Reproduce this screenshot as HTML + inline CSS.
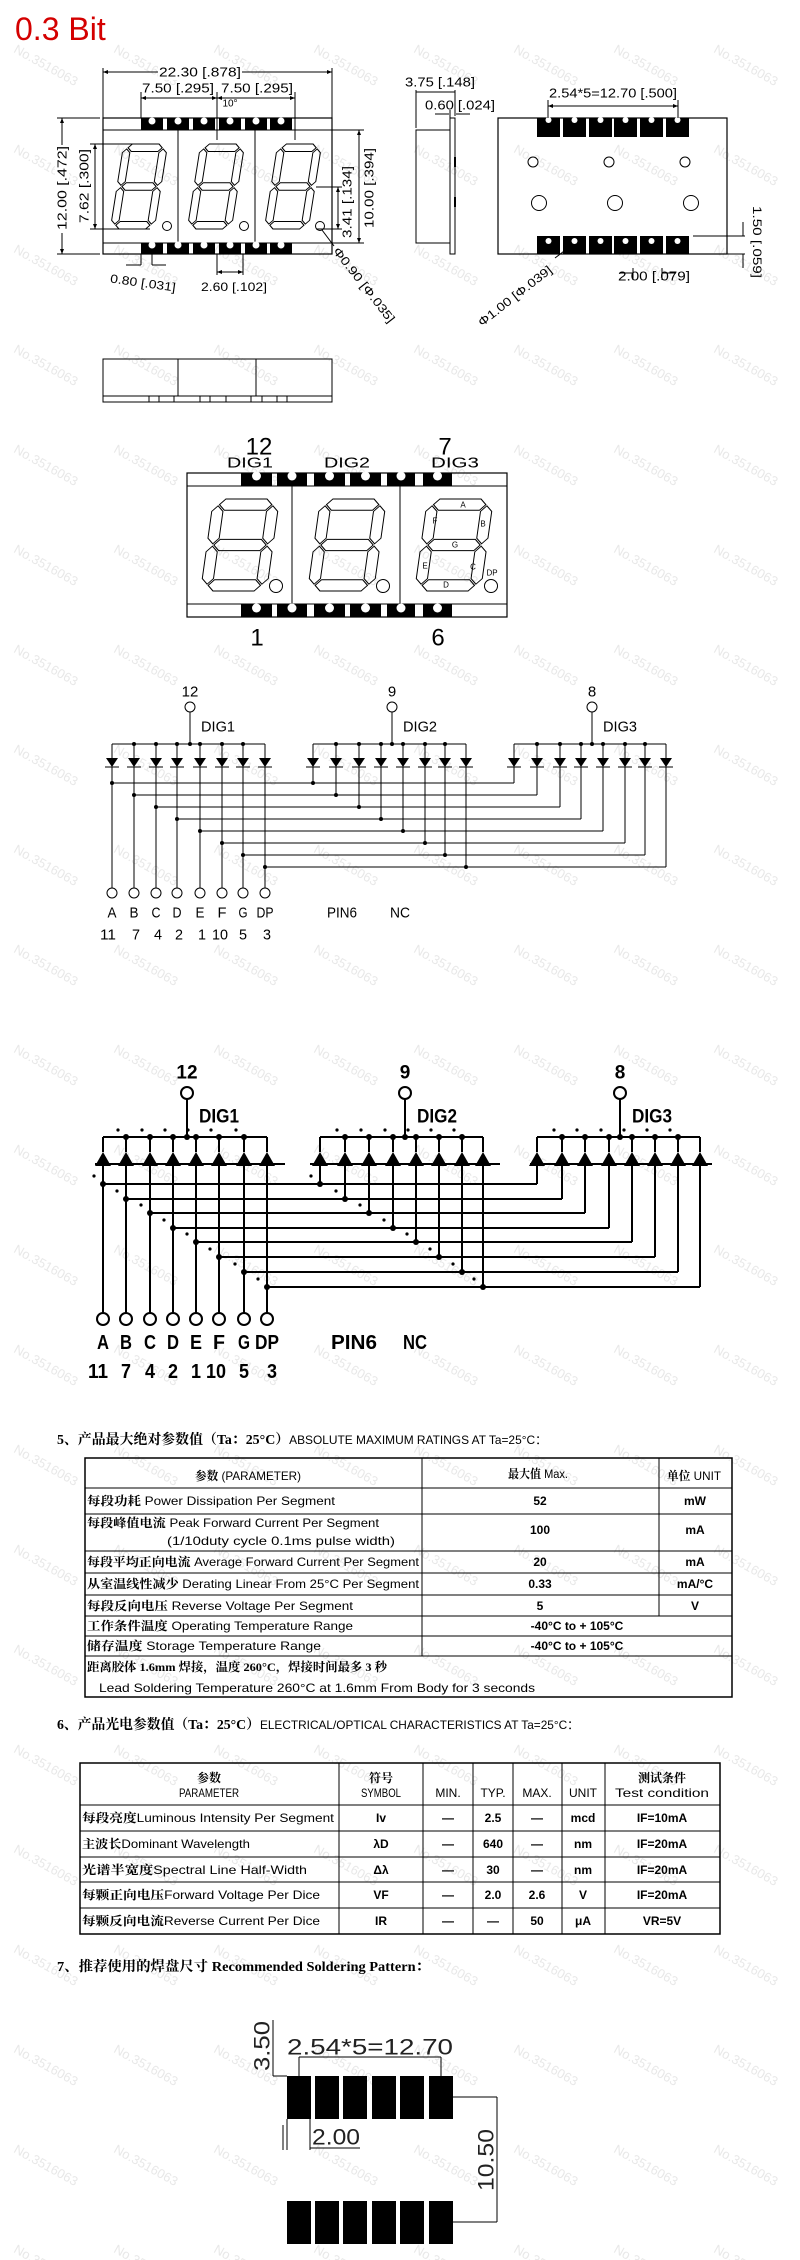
<!DOCTYPE html>
<html><head><meta charset="utf-8">
<style>
html,body{margin:0;padding:0;background:#fff;}
svg{display:block;}
text{font-family:"Liberation Sans Narrow","Liberation Sans","Noto Sans CJK SC",sans-serif;}
.cj{font-family:"Liberation Serif","Noto Serif CJK SC","Noto Sans CJK SC",serif;font-weight:bold;}
.wm{font-family:"Liberation Sans",sans-serif;font-size:13px;fill:#e8e8e8;}
</style></head>
<body>
<svg id="s" xmlns="http://www.w3.org/2000/svg" width="800" height="2260" viewBox="0 0 800 2260">
<text x="15" y="40" style="font-family:'Liberation Sans',sans-serif;font-size:32px;fill:#d40000">0.3 Bit</text>
</svg>
<script>
const NS='http://www.w3.org/2000/svg';
const svg=document.getElementById('s');
function el(tag,a,txt,parent){const e=document.createElementNS(NS,tag);for(const k in a)e.setAttribute(k,a[k]);if(txt!=null)e.textContent=txt;(parent||svg).appendChild(e);return e;}
function L(x1,y1,x2,y2,w,p){el('line',{x1,y1,x2,y2,stroke:'#000','stroke-width':w||1},null,p);}
function R(x,y,w,h,fill,sw,p){el('rect',{x,y,width:w,height:h,fill:fill||'none',stroke:'#000','stroke-width':sw==null?1:sw},null,p);}
function C(cx,cy,r,fill,sw,p){el('circle',{cx,cy,r,fill:fill||'#fff',stroke:'#000','stroke-width':sw||1},null,p);}
function T(x,y,s,size,o){o=o||{};const a={x,y,'font-size':size,'text-anchor':o.anchor||'start','dominant-baseline':'central'};
 if(o.len){a.textLength=o.len;a.lengthAdjust='spacingAndGlyphs';}
 if(o.rot!=null)a.transform='rotate('+o.rot+' '+x+' '+y+')';
 if(o.cls)a['class']=o.cls; if(o.bold)a['font-weight']='bold'; if(o.fill)a.fill=o.fill;
 return el('text',a,s);}
for(let y=48;y<2260;y+=100){for(let x=15;x<800;x+=100){T(x,y,'No.3516063',13,{cls:'wm',rot:29});}}
function arrowH(x1,x2,y){L(x1,y,x2,y);el('path',{d:`M${x1} ${y}l5 -2v4z M${x2} ${y}l-5 -2v4z`,fill:'#000'});}
function arrowV(x,y1,y2){L(x,y1,x,y2);el('path',{d:`M${x} ${y1}l-2 5h4z M${x} ${y2}l-2 -5h4z`,fill:'#000'});}
function digit(bx,by,W,H,sk,sw){
 const g=el('g',{transform:`translate(${bx+W/2} ${by+H/2}) skewX(${-sk}) translate(${-bx-W/2} ${-by-H/2})`,fill:'none',stroke:'#000','stroke-width':sw||1});
 const t=W*0.17,gp=1.2;
 function hs(x0,x1,yc){el('polygon',{points:`${x0},${yc} ${x0+t/2},${yc-t/2} ${x1-t/2},${yc-t/2} ${x1},${yc} ${x1-t/2},${yc+t/2} ${x0+t/2},${yc+t/2}`},null,g);}
 function vs(xc,y0,y1){el('polygon',{points:`${xc},${y0} ${xc+t/2},${y0+t/2} ${xc+t/2},${y1-t/2} ${xc},${y1} ${xc-t/2},${y1-t/2} ${xc-t/2},${y0+t/2}`},null,g);}
 const xl=bx+t/2,xr=bx+W-t/2,yt=by+t/2,ym=by+H/2,yb=by+H-t/2;
 hs(xl+gp,xr-gp,yt);hs(xl+gp,xr-gp,ym);hs(xl+gp,xr-gp,yb);
 vs(xl,yt+gp,ym-gp);vs(xr,yt+gp,ym-gp);vs(xl,ym+gp,yb-gp);vs(xr,ym+gp,yb-gp);
}

// ===== Front view =====
R(103,118,229,136,'none',1.2);L(103,130,332,130);L(103,243,332,243);L(178,130,178,243);L(255,130,255,243);
const fp=[141,167,193,219,245,270];
fp.forEach(x=>{el('rect',{x,y:118,width:22,height:12,fill:'#000'});C(x+11,121,3.5,'#fff',0.01);
 el('rect',{x,y:243,width:22,height:11,fill:'#000'});C(x+11,245,3.5,'#fff',0.01);});
digit(117,144,44,85,9,1);digit(194,144,44,85,9,1);digit(271,144,44,85,9,1);
C(167,226,4.5);C(244,226,4.5);C(320,226,4.5);
L(103,68,103,118);L(332,68,332,118);arrowH(103,332,72);
el('rect',{x:158,y:64,width:84,height:16,fill:'#fff'});T(200,72,'22.30 [.878]',13,{anchor:'middle',len:82});
L(141,92,141,118);L(217,92,217,140);L(295,92,295,140);arrowH(141,217,98);arrowH(217,295,98);
T(178,88,'7.50 [.295]',13,{anchor:'middle',len:72});T(257,88,'7.50 [.295]',13,{anchor:'middle',len:72});
T(230,104,'10°',10,{anchor:'middle'});
L(57,118,100,118);L(57,254,100,254);arrowV(62,118,254);
el('rect',{x:55,y:145,width:14,height:88,fill:'#fff'});T(62,188,'12.00 [.472]',13,{anchor:'middle',rot:-90,len:84});
L(90,144,150,144);L(90,229,150,229);arrowV(95,144,229);T(84,186,'7.62 [.300]',13,{anchor:'middle',rot:-90,len:74});
L(332,130,364,130);L(332,243,364,243);arrowV(359,130,243);T(369,188,'10.00 [.394]',13,{anchor:'middle',rot:-90,len:80});
L(316,187,342,187);L(316,229,342,229);arrowV(338,187,229);T(347,202,'3.41 [.134]',13,{anchor:'middle',rot:-90,len:72});
L(141,254,141,265);L(152,254,152,265);L(126,265,141,265);L(152,265,166,265);
T(143,283,'0.80 [.031]',12,{anchor:'middle',rot:8,len:66});
L(217,254,217,275);L(243,254,243,275);arrowH(217,243,272);
T(234,287,'2.60 [.102]',12,{anchor:'middle',len:66});
L(322,230,334,246);T(364,285,'Φ0.90 [Φ.035]',12,{anchor:'middle',rot:52,len:92});
// ===== Side view =====
R(416,130,34,113,'none',1);R(450,118,5,136,'none',1);
el('rect',{x:454,y:157,width:2,height:10,fill:'#000'});el('rect',{x:454,y:197,width:2,height:10,fill:'#000'});
L(416,90,416,128);L(455,90,455,116);L(416,92,455,92);
T(440,82,'3.75 [.148]',13,{anchor:'middle',len:70});
L(435,114,449,114);L(456,114,470,114);L(450,110,450,118);
T(460,105,'0.60 [.024]',13,{anchor:'middle',len:70});
// ===== Back view =====
R(498,118,229,136,'none',1.2);
[537,563,589,614,640,666].forEach(x=>{el('rect',{x,y:118,width:23,height:19,fill:'#000'});C(x+11.5,120,3,'#fff',0.01);
 el('rect',{x,y:236,width:23,height:18,fill:'#000'});C(x+11.5,241,3,'#fff',0.01);});
[533,609,685].forEach(x=>C(x,162,5));[539,615,691].forEach(x=>C(x,203,7.5));
L(548,100,548,118);L(678,100,678,118);arrowH(548,678,106);
T(613,93,'2.54*5=12.70 [.500]',13,{anchor:'middle',len:128});
L(633,268,633,280);L(662,268,662,280);L(620,273,633,273);L(662,273,676,273);
T(654,276,'2.00 [.079]',13,{anchor:'middle',len:72});
L(693,236,745,236);L(727,254,745,254);L(743,222,743,236);L(743,254,743,268);
T(757,242,'1.50 [.059]',12,{anchor:'middle',rot:90,len:72});
L(555,258,572,245);T(515,296,'Φ1.00 [Φ.039]',12,{anchor:'middle',rot:-38,len:90});
// ===== Bottom view =====
R(103,359,229,43,'none',1);L(178,359,178,396);L(256,359,256,396);L(103,396,332,396);
[149,159,174,200,210,226,251,262,277,287].forEach(x=>L(x,396,x,402));

// ===== Top display =====
R(187,473,320,144,'none',1.2);L(187,486,507,486);L(187,604,507,604);L(292,486,292,604);L(400,486,400,604);
[[241,31],[277,30],[314,31],[350,31],[387,28],[423,29]].forEach(([x,w])=>{el('rect',{x,y:473,width:w,height:13,fill:'#000'});C(x+w/2,476,4.5,'#fff',0.01);
 el('rect',{x,y:604,width:w,height:13,fill:'#000'});C(x+w/2,608,4.5,'#fff',0.01);});
digit(207,499,66,92,8,1);digit(314,499,66,92,8,1);digit(421,499,66,92,8,1);
C(276,586,6.5);C(383,586,6.5);C(491,586,6.5);
T(463,505,'A',8,{anchor:'middle'});T(483,524,'B',8,{anchor:'middle'});T(473,567,'C',8,{anchor:'middle'});
T(446,585,'D',8,{anchor:'middle'});T(425,566,'E',8,{anchor:'middle'});T(435,521,'F',8,{anchor:'middle'});T(455,545,'G',8,{anchor:'middle'});
T(492,573,'DP',8,{anchor:'middle'});
T(259,447,'12',24,{anchor:'middle'});T(445,447,'7',24,{anchor:'middle'});
T(250,463,'DIG1',15,{anchor:'middle',len:46});T(347,463,'DIG2',15,{anchor:'middle',len:46});T(455,463,'DIG3',15,{anchor:'middle',len:48});
T(257,638,'1',24,{anchor:'middle'});T(438,638,'6',24,{anchor:'middle'});

// ===== Schematic 1 =====
function schem1(){
 const g1=[112,134,156,177,200,222,243,265],g2=[313,336,359,381,403,425,445,466],g3=[514,537,560,581,603,625,645,666];
 const pins=[[190,'12'],[392,'9'],[592,'8']],names=['DIG1','DIG2','DIG3'];
 const wy=[783,795,807,819,831,843,855,867];
 [g1,g2,g3].forEach((g,k)=>{
  const by=744;L(g[0],by,g[7],by);
  const px=pins[k][0];C(px,707,5);L(px,712,px,by);el('circle',{cx:px,cy:by,r:2,fill:'#000'});
  T(px,692,pins[k][1],15,{anchor:'middle'});T(px+28,727,names[k],15,{anchor:'middle',len:34});
  g.forEach((x,i)=>{
   if(i>0&&i<7)el('circle',{cx:x,cy:by,r:2,fill:'#000'});
   L(x,by,x,758);el('path',{d:`M${x-6} 758h12l-6 9z`,fill:'#000'});L(x-7,767,x+7,767);
   const endY=k==0?888:wy[i];L(x,767,x,endY);
   if(k<2)el('circle',{cx:x,cy:wy[i],r:2,fill:'#000'});
  });
 });
 g1.forEach((x,i)=>{L(x,wy[i],g3[i],wy[i]);C(x,893,5);});
 const lab=['A','B','C','D','E','F','G','DP'],num=['11','7','4','2','1','10','5','3'];
 g1.forEach((x,i)=>{T(x,913,lab[i],15,{anchor:'middle',len:i==7?17:9});T(x+(i==0?-4:i==5?-2:i==6?0:2),935,num[i],15,{anchor:'middle',len:num[i].length*8});});
 T(327,913,'PIN6',15,{len:30});T(390,913,'NC',15,{len:20});
}
schem1();
// ===== Schematic 2 =====
function schem2(){
 const g1=[103,126,150,173,196,219,244,267],g2=[320,345,369,393,416,439,462,483],g3=[537,562,585,609,632,655,678,700];
 const pins=[[187,'12'],[405,'9'],[620,'8']],names=['DIG1','DIG2','DIG3'],bars=[[95,285],[310,500],[530,712]];
 const wy=[1184,1199,1213,1228,1242,1257,1272,1287];
 [g1,g2,g3].forEach((g,k)=>{
  const by=1137;L(g[0],by,g[7],by,2);
  const px=pins[k][0];C(px,1093,6,'#fff',2);L(px,1099,px,by,2);el('circle',{cx:px,cy:by,r:3,fill:'#000'});
  T(px,1073,pins[k][1],19,{anchor:'middle',bold:true});T(px+32,1117,names[k],19,{anchor:'middle',bold:true,len:40});
  L(bars[k][0],1164,bars[k][1],1164,2);
  g.forEach((x,i)=>{
   if(i>0&&i<7){el('circle',{cx:x,cy:by,r:3,fill:'#000'});}
   if(i>0&&i<7)el('circle',{cx:x-8,cy:1130,r:1.6,fill:'#000'});
   L(x,by,x,1152,2);el('path',{d:`M${x-8} 1166h16l-8 -14z`,fill:'#000'});
   const endY=k==0?1313:wy[i];L(x,1166,x,endY,2);
   if(k<2){el('circle',{cx:x,cy:wy[i],r:3,fill:'#000'});el('circle',{cx:x-9,cy:wy[i]-8,r:1.6,fill:'#000'});}
  });
 });
 g1.forEach((x,i)=>{L(x,wy[i],g3[i],wy[i],2);C(x,1319,6,'#fff',2);});
 const lab=['A','B','C','D','E','F','G','DP'],num=['11','7','4','2','1','10','5','3'];
 g1.forEach((x,i)=>{T(x,1343,lab[i],20,{anchor:'middle',bold:true,len:i==7?24:12});T(x+(i==0?-5:i==5?-3:i==7?5:0),1372,num[i],20,{anchor:'middle',bold:true,len:num[i].length*10});});
 T(331,1343,'PIN6',20,{bold:true,len:46});T(403,1343,'NC',20,{bold:true,len:24});
}
schem2();

// ===== Section 5 =====
function H(x,y,cj,en,len){const t=el('text',{x,y,'dominant-baseline':'central','font-size':14,textLength:len,lengthAdjust:'spacingAndGlyphs'});
 el('tspan',{'class':'cj'},cj,t);el('tspan',{'font-size':12},en,t);}
H(57,1440,'5、产品最大绝对参数值（Ta：25°C）','ABSOLUTE MAXIMUM RATINGS AT Ta=25°C：',490);
R(85,1458,647,239,'none',1.5);
[1488,1514,1551,1573,1595,1616,1636,1656].forEach(y=>L(85,y,732,y));
L(422,1458,422,1656);L(659,1458,659,1616);
function CT(x,y,cj,en,len,size,anchor){const a={x,y,'dominant-baseline':'central','font-size':size||12,'text-anchor':anchor||'start'};if(len){a.textLength=len;a.lengthAdjust='spacingAndGlyphs';}
 const t=el('text',a);if(cj)el('tspan',{'class':'cj'},cj,t);if(en)el('tspan',{},en,t);}
CT(248,1476,'参数',' (PARAMETER)',106,12,'middle');CT(538,1474,'最大值',' Max.',60,12,'middle');CT(694,1476,'单位',' UNIT',54,12,'middle');
CT(87,1501,'每段功耗',' Power Dissipation Per Segment',248);
CT(87,1523,'每段峰值电流',' Peak Forward Current Per Segment',292);
CT(167,1541,null,'(1/10duty cycle 0.1ms pulse width)',228);
CT(87,1562,'每段平均正向电流','  Average Forward Current Per Segment',332);
CT(87,1584,'从室温线性减少','  Derating Linear From 25°C Per Segment',332);
CT(87,1606,'每段反向电压','  Reverse Voltage Per Segment',266);
CT(87,1626,'工作条件温度','  Operating Temperature Range',266);
CT(87,1646,'储存温度','  Storage Temperature Range',234);
CT(87,1667,'距离胶体 1.6mm 焊接，温度 260°C，焊接时间最多 3 秒',null,300);
CT(99,1688,null,'Lead Soldering Temperature 260°C at 1.6mm From Body for 3 seconds',436);
[['52','mW',1501],['100','mA',1530],['20','mA',1562],['0.33','mA/°C',1584],['5','V',1606]].forEach(([a,b,y])=>{T(540,y,a,12,{anchor:'middle',bold:true});T(695,y,b,12,{anchor:'middle',bold:true});});
T(577,1626,'-40°C to + 105°C',12,{anchor:'middle',bold:true});T(577,1646,'-40°C to + 105°C',12,{anchor:'middle',bold:true});

// ===== Section 6 =====
H(57,1725,'6、产品光电参数值（Ta：25°C）','ELECTRICAL/OPTICAL CHARACTERISTICS AT Ta=25°C：',522);
R(80,1763,640,171,'none',1.5);
[1805,1831,1857,1882,1908].forEach(y=>L(80,y,720,y));
[339,423,473,513,562,605].forEach(x=>L(x,1763,x,1934));
CT(209,1778,'参数',null,null,12,'middle');T(209,1793,'PARAMETER',12,{anchor:'middle',len:60});
CT(381,1778,'符号',null,null,12,'middle');T(381,1793,'SYMBOL',12,{anchor:'middle',len:40});
T(448,1793,'MIN.',12,{anchor:'middle'});T(493,1793,'TYP.',12,{anchor:'middle'});T(537,1793,'MAX.',12,{anchor:'middle'});T(583,1793,'UNIT',12,{anchor:'middle'});
CT(662,1778,'测试条件',null,null,12,'middle');T(662,1793,'Test condition',12,{anchor:'middle',len:94});
const rows=[['每段亮度','Luminous Intensity Per Segment',252,'Iv','—','2.5','—','mcd','IF=10mA'],
['主波长','Dominant Wavelength',168,'λD','—','640','—','nm','IF=20mA'],
['光谱半宽度','Spectral Line Half-Width',225,'Δλ','—','30','—','nm','IF=20mA'],
['每颗正向电压','Forward Voltage Per Dice',238,'VF','—','2.0','2.6','V','IF=20mA'],
['每颗反向电流','Reverse Current Per Dice',238,'IR','—','—','50','μA','VR=5V']];
[1818,1844,1870,1895,1921].forEach((y,i)=>{const r=rows[i];CT(82,y,r[0],r[1],r[2]);
 [381,448,493,537,583,662].forEach((x,j)=>T(x,y,r[3+j],12,{anchor:'middle',bold:true}));});

// ===== Section 7 =====
CT(57,1967,'7、推荐使用的焊盘尺寸 Recommended Soldering Pattern：',null,373,14);
const sp=[287,315,343,372,400,429];
sp.forEach(x=>{el('rect',{x,y:2076,width:24,height:43,fill:'#000'});el('rect',{x,y:2201,width:24,height:43,fill:'#000'});});
L(299,2057,299,2076);L(441,2057,441,2076);L(299,2057,441,2057);
T(370,2047,'2.54*5=12.70',22,{anchor:'middle',len:166,fill:'#222'});
L(273,2020,273,2076);L(273,2076,287,2076);
T(262,2046,'3.50',22,{anchor:'middle',rot:-90,len:50,fill:'#222'});
L(287,2119,287,2150);L(310,2119,310,2150);L(283,2125,283,2150);L(310,2148,360,2148);
T(336,2137,'2.00',22,{anchor:'middle',len:48,fill:'#222'});
L(453,2097,497,2097);L(453,2222,497,2222);L(497,2097,497,2222);
T(486,2160,'10.50',22,{anchor:'middle',rot:-90,len:62,fill:'#222'});
</script>
</body></html>
